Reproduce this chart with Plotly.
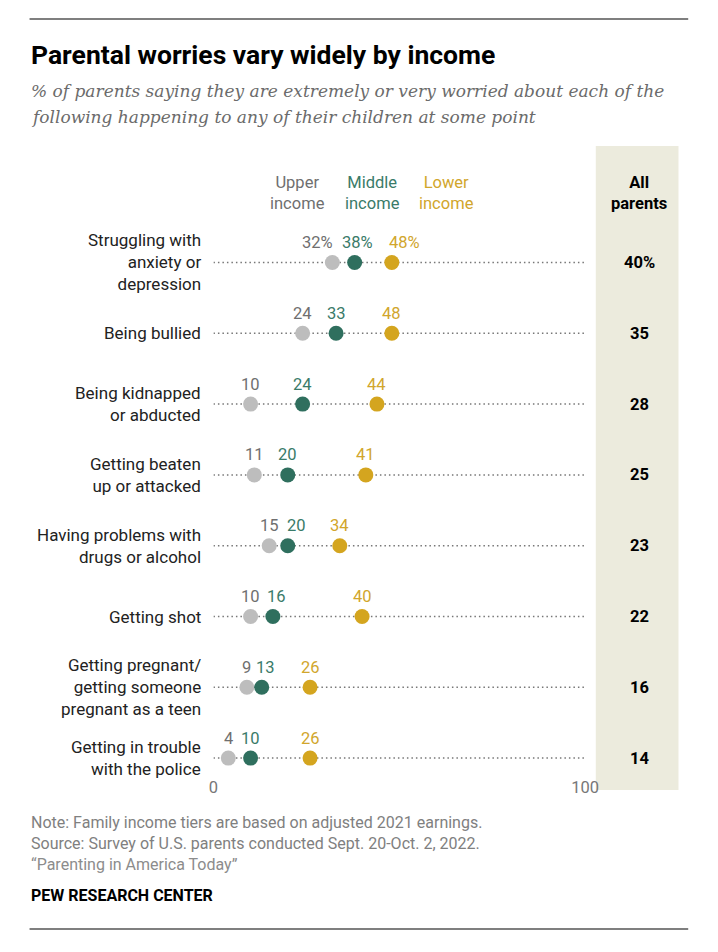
import plotly.graph_objects as go

# worries, top to bottom
items = ["Struggling with<br>anxiety or<br>depression", "Being bullied",
         "Being kidnapped<br>or abducted", "Getting beaten<br>up or attacked",
         "Having problems with<br>drugs or alcohol", "Getting shot",
         "Getting pregnant/<br>getting someone<br>pregnant as a teen",
         "Getting in trouble<br>with the police"]
upper = [32, 24, 10, 11, 15, 10, 9, 4]
middle = [38, 33, 24, 20, 20, 16, 13, 10]
lower = [48, 48, 44, 41, 34, 40, 26, 26]
all_parents = [40, 35, 28, 25, 23, 22, 16, 14]

rows = list(range(len(items)))

# page has an 8px body margin, so the figure is 16px smaller than the window
PAD = 8
W, H = 718 - 2 * PAD, 952 - 2 * PAD

SANS = "Roboto, Liberation Sans, sans-serif"
SERIF = "DejaVu Serif, Liberation Serif, serif"

series = [
    ("Upper<br>income", upper, "#bdbdbd", "#6f6f6f", 300),
    ("Middle<br>income", middle, "#2f6f5e", "#3a7b69", 378),
    ("Lower<br>income", lower, "#d4a51f", "#d1a62c", 454),
]
# small horizontal nudges (px) for crowded value labels: (series, row) -> shift
nudge = {(0, 0): -15, (1, 0): 3, (2, 0): 13, (1, 4): 9, (1, 5): 4, (1, 6): 4}


def lbl(v, i):
    return f"{v}%" if i == 0 else str(v)


def px(x):
    return (x - PAD) / W


def py(y):
    return 1 - (y - PAD) / H


fig = go.Figure()

# dotted guide lines
for r in rows:
    fig.add_trace(go.Scatter(x=[0, 100.5], y=[r, r], mode="lines",
                             line=dict(color="#777777", width=1.5, dash="1.5px,3px"),
                             hoverinfo="skip", showlegend=False))

ann = []
for s, (name, vals, dot_c, txt_c, hx) in enumerate(series):
    fig.add_trace(go.Scatter(
        x=vals, y=rows, mode="markers",
        marker=dict(size=15, color=dot_c),
        name=name.replace("<br>", " "), showlegend=False, cliponaxis=False))
    for r, v in enumerate(vals):
        ann.append(dict(xref="x", yref="y", x=v, y=r, text=lbl(v, r),
                        showarrow=False, yshift=20, xshift=nudge.get((s, r), 0),
                        font=dict(family=SANS, size=16.5, color=txt_c)))

x0, x1 = 214, 596
top_px, step = 262.5, 70.8
y_top = top_px - step / 2
y_bot = top_px + step * (len(items) - 0.75)

fig.update_layout(
    width=W, height=H, margin=dict(l=0, r=0, t=0, b=0),
    paper_bgcolor="white", plot_bgcolor="rgba(0,0,0,0)",
    xaxis=dict(domain=[px(x0), px(x1)], range=[0, 100], showgrid=False,
               zeroline=False, showline=False, tickvals=[0, 100],
               ticks="", ticklabelstandoff=0,
               tickfont=dict(family=SANS, size=16.5, color="#777777")),
    yaxis=dict(domain=[py(y_bot), py(y_top)],
               range=[len(items) - 0.75, -0.5], showgrid=False, zeroline=False,
               showticklabels=False, fixedrange=True),
)

shapes = [
    dict(type="rect", xref="paper", yref="paper", x0=px(607), x1=px(692),
         y0=py(790), y1=py(146), fillcolor="#ecebdd", line_width=0, layer="below"),
    dict(type="line", xref="paper", yref="paper", x0=px(25), x1=px(702),
         y0=py(19), y1=py(19), line=dict(color="black", width=1.2)),
    dict(type="line", xref="paper", yref="paper", x0=px(25), x1=px(702),
         y0=py(929), y1=py(929), line=dict(color="black", width=1.2)),
]
fig.update_layout(shapes=shapes)


def text(x, y, s, size, color, family=SANS, xanchor="left", align="left"):
    ann.append(dict(xref="paper", yref="paper", x=px(x), y=py(y), text=s,
                    showarrow=False, xanchor=xanchor, yanchor="middle", align=align,
                    font=dict(family=family, size=size, color=color)))


text(24, 54, "<b>Parental worries vary widely by income</b>", 26.5, "black")
text(24, 91, "<i>% of parents saying they are extremely or very worried about each of the</i>", 17, "#6b6b6b", SERIF)
text(24, 117, "<i>following happening to any of their children at some point</i>", 17, "#6b6b6b", SERIF)

# legend headings
for name, vals, dot_c, txt_c, hx in series:
    text(hx, 193, name, 16.5, txt_c, xanchor="center", align="center")
text(651, 193, "<b>All<br>parents</b>", 16.5, "black", xanchor="center", align="center")

# row labels and all-parents values
for r, (item, v) in enumerate(zip(items, all_parents)):
    yc = top_px + step * r
    text(203, yc, item, 17, "#222222", xanchor="right", align="right")
    text(652, yc, f"<b>{lbl(v, r)}</b>", 16.5, "black", xanchor="center", align="center")

text(24, 822, "Note: Family income tiers are based on adjusted 2021 earnings.", 16, "#808080")
text(24, 843, "Source: Survey of U.S. parents conducted Sept. 20-Oct. 2, 2022.", 16, "#808080")
text(24, 864, "\u201cParenting in America Today\u201d", 16, "#8c8c8c")
text(24, 895, "<b>PEW RESEARCH CENTER</b>", 16, "black")

fig.update_layout(annotations=ann)

fig.write_html("out.html")
